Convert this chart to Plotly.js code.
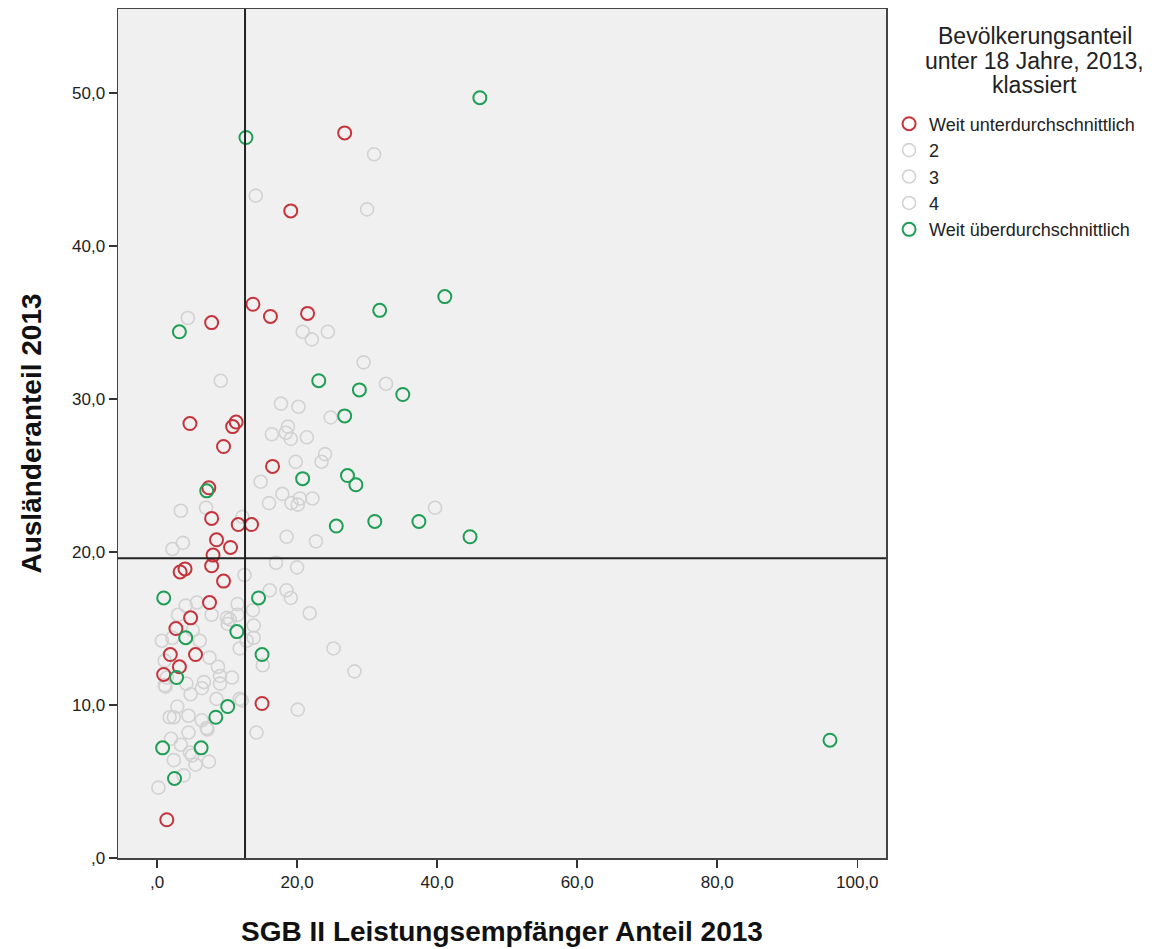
<!DOCTYPE html>
<html>
<head>
<meta charset="utf-8">
<script src="https://cdn.plot.ly/plotly-3.0.1.min.js"></script>
<style>
html,body{margin:0;padding:0;background:#fff;}
#chart{width:1176px;height:949px;}
</style>
</head>
<body>
<div id="chart"></div>
<script>
// Category 1: "Weit unterdurchschnittlich"
const redX = [26.8,19.1,13.7,21.5,16.2,7.8,4.7,11.3,10.8,9.5,16.5,7.4,7.8,11.6,13.5,8.5,10.5,8.0,7.8,9.5,3.3,4.0,7.5,4.8,2.7,5.5,1.9,3.2,0.95,15.0,1.4];
const redY = [47.4,42.3,36.2,35.6,35.4,35.0,28.4,28.5,28.2,26.9,25.6,24.2,22.2,21.8,21.8,20.8,20.3,19.8,19.1,18.1,18.7,18.9,16.7,15.7,15.0,13.3,13.3,12.5,12.0,10.1,2.5];
// Category 5: "Weit überdurchschnittlich"
const greenX = [46.1,12.7,41.1,31.8,3.2,23.1,28.9,35.1,26.8,27.2,28.4,20.8,7.1,25.6,31.1,37.4,44.7,0.96,14.5,11.4,4.1,15.0,2.8,10.1,8.4,0.8,6.3,2.5,96.1];
const greenY = [49.7,47.1,36.7,35.8,34.4,31.2,30.6,30.3,28.9,25.0,24.4,24.8,24.0,21.7,22.0,22.0,21.0,17.0,17.0,14.8,14.4,13.3,11.8,9.9,9.2,7.2,7.2,5.2,7.7];
// Categories 2-4 (same grey colour, not distinguishable in the picture)
const greyX = [14.1,31.0,30.0,4.4,9.1,20.8,22.1,24.4,29.5,32.7,17.7,20.2,24.8,18.7,16.4,19.1,21.4,18.4,24.0,23.5,19.8,14.8,17.9,19.2,20.4,22.2,20.1,16.0,18.5,22.7,39.7,3.4,7.0,2.2,3.7,17.0,20.0,12.5,12.2,16.1,18.5,19.1,21.8,13.7,13.8,13.8,25.2,15.1,28.2,20.1,14.2,12.1,4.1,5.7,11.5,3.0,7.8,10.0,11.5,10.1,0.7,5.1,6.1,11.8,12.8,7.5,8.7,10.7,9.0,6.7,4.2,1.2,1.4,6.4,4.8,8.5,11.8,2.9,1.8,2.4,4.5,6.4,7.2,4.5,2.0,3.4,5.0,2.4,5.5,7.4,3.8,0.2,2.2,1.1,10.4,9.0,7.1,4.7,1.1];
const greyY = [43.3,46.0,42.4,35.3,31.2,34.4,33.9,34.4,32.4,31.0,29.7,29.5,28.8,28.2,27.7,27.4,27.5,27.8,26.4,25.9,25.9,24.6,23.8,23.2,23.5,23.5,23.1,23.2,21.0,20.7,22.9,22.7,22.9,20.2,20.6,19.3,19.0,18.5,22.3,17.5,17.5,17.0,16.0,16.2,15.2,14.4,13.7,12.6,12.2,9.7,8.2,10.3,16.5,16.7,16.6,15.9,15.9,15.7,15.9,15.3,14.2,14.9,14.2,13.7,14.2,13.1,12.5,11.8,11.9,11.5,11.4,11.2,11.8,11.1,10.7,10.4,10.4,9.9,9.2,9.2,9.3,9.0,8.4,8.2,7.8,7.4,6.7,6.4,6.1,6.3,5.4,4.6,14.4,12.9,15.6,11.4,8.5,6.9,11.3];

const categoryNames = ["Weit unterdurchschnittlich","2","3","4","Weit überdurchschnittlich"];
const legendTitleLines = ["Bevölkerungsanteil","unter 18 Jahre, 2013,","klassiert"];
const meanX = 12.57;   // reference line on x
const meanY = 19.6;    // reference line on y

const xTickVals = [0,20,40,60,80,100];
const xTickText = [",0","20,0","40,0","60,0","80,0","100,0"];
const yTickVals = [0,10,20,30,40,50];
const yTickText = [",0","10,0","20,0","30,0","40,0","50,0"];

const RED = "#c4343c", GREEN = "#1f9e55", GREY = "#d2d2d2";
const FONT = "Liberation Sans, Arial, sans-serif";

function mk(color, w){ return {symbol:"circle-open", size:13, color:color, line:{width:w, color:color}}; }

const traces = [
  {x: greyX, y: greyY, name: categoryNames[1], type:"scatter", mode:"markers", marker: mk(GREY,1.6), legendrank:2},
  {x: [null], y: [null], name: categoryNames[2], type:"scatter", mode:"markers", marker: mk(GREY,1.6), legendrank:3},
  {x: [null], y: [null], name: categoryNames[3], type:"scatter", mode:"markers", marker: mk(GREY,1.6), legendrank:4},
  {x: redX, y: redY, name: categoryNames[0], type:"scatter", mode:"markers", marker: mk(RED,2), legendrank:1},
  {x: greenX, y: greenY, name: categoryNames[4], type:"scatter", mode:"markers", marker: mk(GREEN,2), legendrank:5}
];

// legend title as centred text lines
const titleY = [0.968, 0.9388, 0.9105];
const annotations = legendTitleLines.map((t,i)=>({
  text:t, xref:"paper", yref:"paper", x:1.194, y:titleY[i], xanchor:"center", yanchor:"middle",
  showarrow:false, font:{family:FONT, size:23, color:"#222"}
}));

const layout = {
  width:1176, height:949,
  margin:{l:118, r:290, t:9, b:91},
  paper_bgcolor:"#ffffff",
  plot_bgcolor:"#f0f0f0",
  font:{family:FONT, size:17, color:"#222"},
  showlegend:true,
  legend:{
    x:1.004, xanchor:"left", y:0.8863, yanchor:"top",
    bgcolor:"rgba(0,0,0,0)",
    font:{family:FONT, size:18, color:"#222"},
    tracegroupgap:0,
    itemclick:false
  },
  annotations: annotations,
  xaxis:{
    range:[-5.57, 104.1], tickvals:xTickVals, ticktext:xTickText,
    ticks:"outside", ticklen:8, tickwidth:1.5, tickcolor:"#333",
    showgrid:false, zeroline:false,
    showline:true, linecolor:"#444", linewidth:1.5, mirror:true,
    tickfont:{family:FONT, size:17, color:"#222"},
    title:{text:"<b>SGB II Leistungsempfänger Anteil 2013</b>", font:{family:FONT, size:28, color:"#111"}, standoff:30}
  },
  yaxis:{
    range:[0, 55.5], tickvals:yTickVals, ticktext:yTickText,
    ticks:"outside", ticklen:8, tickwidth:1.5, tickcolor:"#333",
    showgrid:false, zeroline:false,
    showline:true, linecolor:"#444", linewidth:1.5, mirror:true,
    tickfont:{family:FONT, size:17, color:"#222"},
    title:{text:"<b>Ausländeranteil 2013</b>", font:{family:FONT, size:28, color:"#111"}, standoff:22}
  },
  shapes:[
    {type:"line", xref:"x", yref:"paper", x0:meanX, x1:meanX, y0:0, y1:1, line:{color:"#222", width:2}, layer:"above"},
    {type:"line", xref:"paper", yref:"y", x0:0, x1:1, y0:meanY, y1:meanY, line:{color:"#222", width:2}, layer:"above"}
  ]
};

Plotly.newPlot("chart", traces, layout, {displayModeBar:false, staticPlot:true});
</script>
</body>
</html>
